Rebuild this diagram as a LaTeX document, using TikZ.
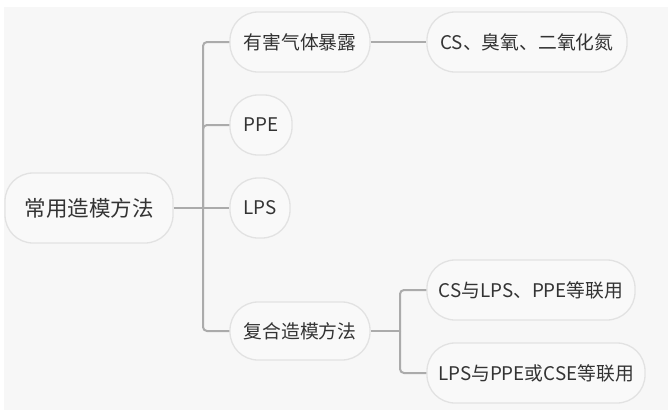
\documentclass[tikz,border=0pt]{standalone}
\usepackage{fontspec}
\setmainfont{Noto Sans CJK SC}
\definecolor{bgc}{HTML}{F7F7F7}
\definecolor{pillfill}{HTML}{F9F9F9}
\definecolor{pillborder}{HTML}{E2E2E2}
\definecolor{linec}{HTML}{ABABAB}
\definecolor{txt}{HTML}{333333}
\begin{document}
\begin{tikzpicture}[x=1pt,y=-1pt,
  pill/.style={draw=pillborder, line width=1.3pt, fill=pillfill, rounded corners=28pt,
    text=txt, font=\fontsize{18.8}{21}\selectfont, inner sep=0pt, anchor=center},
  conn/.style={draw=linec, line width=2pt, rounded corners=4pt}]
\useasboundingbox (0,0) rectangle (668,410);
\fill[white] (0,0) rectangle (668,410);
\fill[bgc] (4,7) rectangle (668,410);

\node[pill, minimum width=168pt, minimum height=70pt, font=\fontsize{21.5}{24}\selectfont] (root) at (89,208) {常用造模方法};
\node[pill, minimum width=140pt, minimum height=60pt] (n1) at (300,42) {有害气体暴露};
\node[pill, minimum width=62pt, minimum height=60pt] (n2) at (261,125) {PPE};
\node[pill, minimum width=60pt, minimum height=60pt] (n3) at (260,208) {LPS};
\node[pill, minimum width=140pt, minimum height=58pt] (n4) at (300,331) {复合造模方法};
\node[pill, minimum width=200pt, minimum height=60pt] (c1) at (527,42) {CS、臭氧、二氧化氮};
\node[pill, minimum width=208pt, minimum height=60pt] (c2) at (531,290) {CS与LPS、PPE等联用};
\node[pill, minimum width=218pt, minimum height=60pt] (c3) at (536,373) {LPS与PPE或CSE等联用};

\coordinate (s1) at (203,208);
\coordinate (s2) at (400,331);
\draw[conn] (root.east) -- (n3.west);
\draw[conn] (s1) |- (n1.west);
\draw[conn] (s1) |- (n2.west);
\draw[conn] (s1) |- (n4.west);
\draw[conn] (n1.east) -- (c1.west);
\draw[conn] (n4.east) -- (s2);
\draw[conn] (s2) |- (c2.west);
\draw[conn] (s2) |- (c3.west);
\end{tikzpicture}
\end{document}
